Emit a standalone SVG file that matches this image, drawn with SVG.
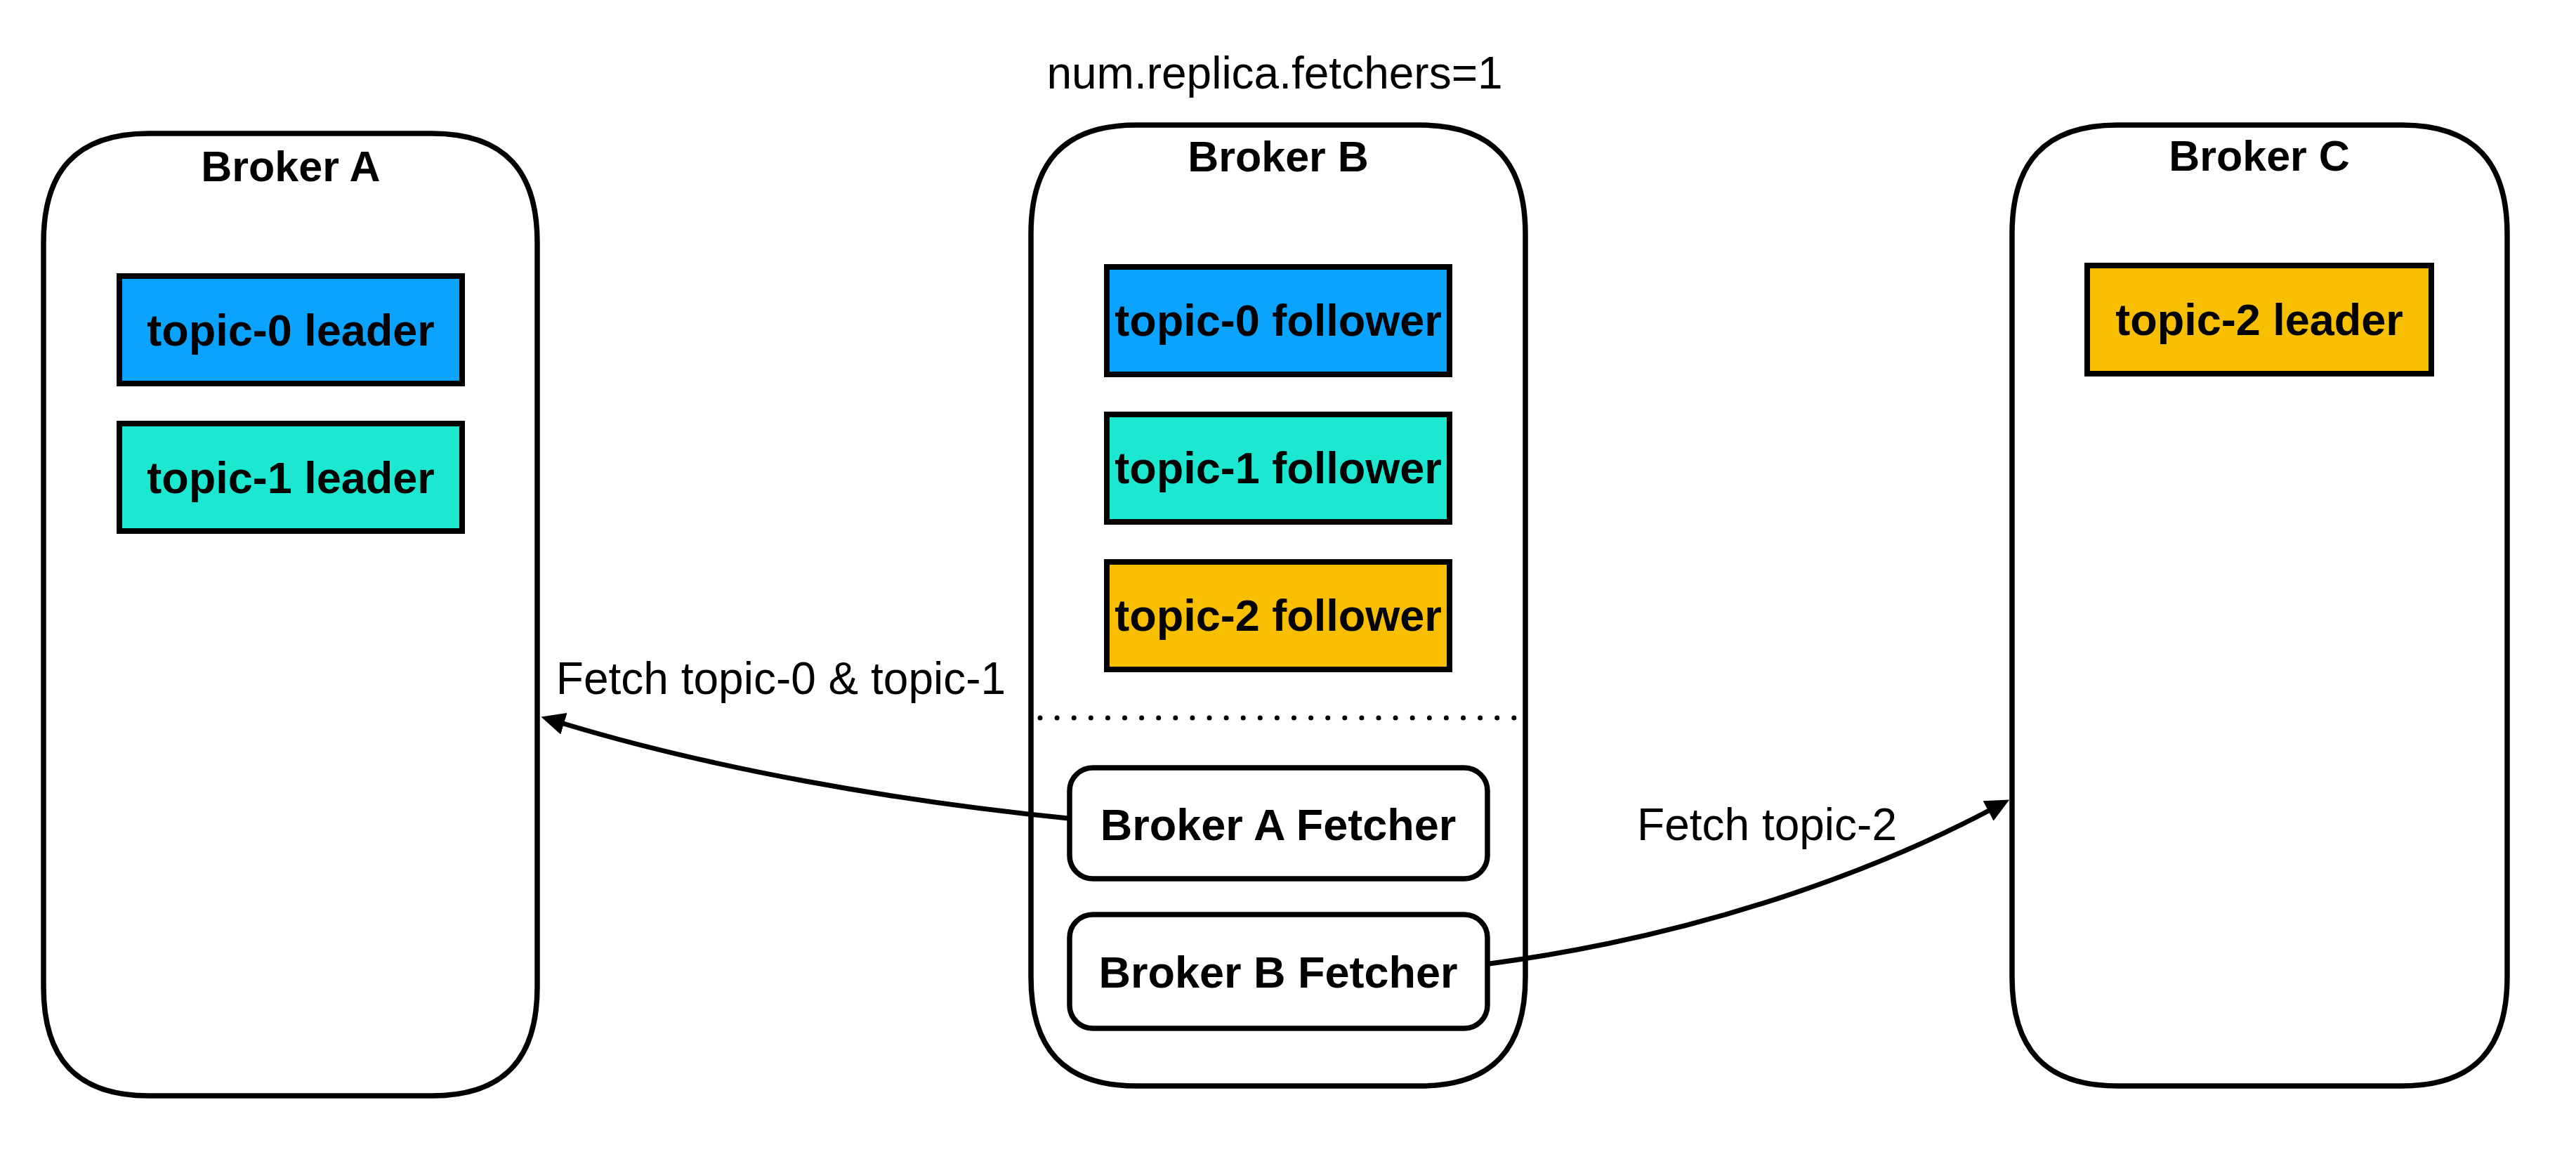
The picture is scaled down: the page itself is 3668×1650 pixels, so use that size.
<svg xmlns="http://www.w3.org/2000/svg" width="3668" height="1650" viewBox="0 0 3668 1650">
  <style>
    text { font-family: "Liberation Sans", Arial, Helvetica, sans-serif; fill: #000; text-anchor: middle; }
    .title { font-size: 61px; font-weight: bold; }
    .box-label { font-size: 63px; font-weight: bold; }
    .label { font-size: 64px; }
    .broker { fill: #fff; stroke: #000; stroke-width: 7.5; }
    .topic { stroke: #000; stroke-width: 8; }
    .fetcher { fill: #fff; stroke: #000; stroke-width: 7.5; }
    .t0 { fill: #0AA3FF; }
    .t1 { fill: #1CE8D1; }
    .t2 { fill: #F8BF00; }
    .edge { fill: none; stroke: #000; stroke-width: 7; }
    .divider { stroke: #000; stroke-width: 7; stroke-linecap: round; stroke-dasharray: 0 24.1; }
  </style>
  <defs>
    <marker id="arrow" markerUnits="userSpaceOnUse" viewBox="0 0 34 32" markerWidth="34" markerHeight="32" refX="1" refY="16" orient="auto">
      <path d="M0,0 L34,16 L0,32 Z" fill="#000"/>
    </marker>
  </defs>
  <rect x="0" y="0" width="3668" height="1650" fill="#fff"/>

  <text class="label" x="1815" y="126">num.replica.fetchers=1</text>

  <g id="broker-a">
    <path class="broker" d="M62,345 C62,245 107,190 212,190 L615,190 C720,190 765,245 765,345 L765,1405 C765,1505 720,1560 615,1560 L212,1560 C107,1560 62,1505 62,1405 Z"/>
    <text class="title" x="414" y="258">Broker A</text>
  </g>
  <g id="topic-0-leader">
    <rect class="topic t0" x="170" y="393" width="488" height="153"/>
    <text class="box-label" x="414" y="492">topic-0 leader</text>
  </g>
  <g id="topic-1-leader">
    <rect class="topic t1" x="170" y="603" width="488" height="153"/>
    <text class="box-label" x="414" y="702">topic-1 leader</text>
  </g>

  <g id="broker-b">
    <path class="broker" d="M1468,333 C1468,233 1513,178 1618,178 L2022,178 C2127,178 2172,233 2172,333 L2172,1391 C2172,1491 2127,1546 2022,1546 L1618,1546 C1513,1546 1468,1491 1468,1391 Z"/>
    <text class="title" x="1820" y="244">Broker B</text>
    <line class="divider" x1="1481" y1="1022" x2="2156" y2="1022"/>
  </g>
  <g id="topic-0-follower">
    <rect class="topic t0" x="1576" y="380" width="488" height="153"/>
    <text class="box-label" x="1820" y="478">topic-0 follower</text>
  </g>
  <g id="topic-1-follower">
    <rect class="topic t1" x="1576" y="590" width="488" height="153"/>
    <text class="box-label" x="1820" y="688">topic-1 follower</text>
  </g>
  <g id="topic-2-follower">
    <rect class="topic t2" x="1576" y="800" width="488" height="153"/>
    <text class="box-label" x="1820" y="898">topic-2 follower</text>
  </g>
  <g id="broker-a-fetcher">
    <rect class="fetcher" x="1523" y="1093" width="595" height="158" rx="33" ry="33"/>
    <text class="box-label" x="1820" y="1196">Broker A Fetcher</text>
  </g>
  <g id="broker-b-fetcher">
    <rect class="fetcher" x="1523" y="1302" width="595" height="162" rx="33" ry="33"/>
    <text class="box-label" x="1820" y="1406">Broker B Fetcher</text>
  </g>

  <g id="broker-c">
    <path class="broker" d="M2865,333 C2865,233 2910,178 3015,178 L3420,178 C3525,178 3570,233 3570,333 L3570,1391 C3570,1491 3525,1546 3420,1546 L3015,1546 C2910,1546 2865,1491 2865,1391 Z"/>
    <text class="title" x="3217" y="243">Broker C</text>
  </g>
  <g id="topic-2-leader">
    <rect class="topic t2" x="2972" y="378" width="490" height="154"/>
    <text class="box-label" x="3217" y="477">topic-2 leader</text>
  </g>

  <g id="connectors">
    <path class="edge" d="M1521,1165 C1270,1140 1010,1093 802,1030" marker-end="url(#arrow)"/>
    <text class="label" x="1112" y="988">Fetch topic-0 &amp; topic-1</text>
    <path class="edge" d="M2121,1372 C2400,1335 2650,1250 2832,1154" marker-end="url(#arrow)"/>
    <text class="label" x="2516" y="1196">Fetch topic-2</text>
  </g>
</svg>
